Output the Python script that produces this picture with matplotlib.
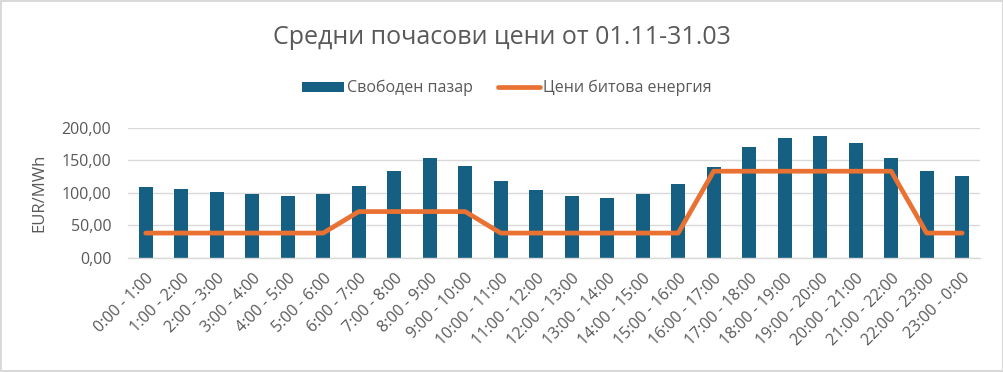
import matplotlib
matplotlib.use("Agg")
import matplotlib.pyplot as plt
import numpy as np
from matplotlib.lines import Line2D
from matplotlib.patches import Patch

plt.rcParams['font.family'] = ['Open Sans', 'DejaVu Sans']

hours = [f"{h}:00 - {(h + 1) % 24}:00" for h in range(24)]
free_market = [109, 106, 101, 98, 95, 98, 111, 134, 153, 141, 118, 104,
               95, 92, 98, 113, 139, 170, 184, 187, 176, 154, 134, 125]
household = [38, 38, 38, 38, 38, 38, 71, 71, 71, 71, 38, 38,
             38, 38, 38, 38, 133, 133, 133, 133, 133, 133, 38, 38]
yticks = [0, 50, 100, 150, 200]

title = "Средни почасови цени от 01.11-31.03"
s1_name = "Свободен пазар"
s2_name = "Цени битова енергия"
ylabel = "EUR/MWh"

BLUE = "#156082"
ORANGE = "#E97132"
GRAY = "#595959"
GRID = "#D9D9D9"

fig = plt.figure(figsize=(10.04, 3.72), dpi=100)
fig.patch.set_edgecolor(GRID)
fig.patch.set_linewidth(1.5)
ax = fig.add_axes([0.1275, 0.307, 0.8485, 0.35])

x = np.arange(len(hours))
ax.bar(x, free_market, width=0.4, color=BLUE, zorder=2)
ax.plot(x, household, color=ORANGE, lw=3.4, solid_capstyle='round',
        solid_joinstyle='round', zorder=3)

ax.set_xlim(-0.5, len(hours) - 0.5)
ax.set_ylim(0, 200)
ax.set_yticks(yticks)
ax.set_yticklabels([f"{v:.2f}".replace('.', ',') for v in yticks],
                   fontsize=11.5, color=GRAY)
ax.set_xticks(x)
ax.set_xticklabels(hours, rotation=45, ha='right', rotation_mode='anchor',
                   fontsize=11.5, color=GRAY)
ax.tick_params(axis='both', length=0)
ax.tick_params(axis='y', pad=12)
ax.tick_params(axis='x', pad=9)
ax.grid(axis='y', color=GRID, lw=1, zorder=0)
for s in ['top', 'right', 'left']:
    ax.spines[s].set_visible(False)
ax.spines['bottom'].set_color(GRID)
ax.spines['bottom'].set_linewidth(1)
ax.set_axisbelow(True)

ax.set_ylabel(ylabel, fontsize=12, color=GRAY, labelpad=10)
fig.text(0.5, 0.9, title, ha='center', va='center', fontsize=18, color=GRAY)

handles = [Patch(facecolor=BLUE, label=s1_name),
           Line2D([0], [0], color=ORANGE, lw=3.4, solid_capstyle='round', label=s2_name)]
fig.legend(handles=handles, loc='center', bbox_to_anchor=(0.505, 0.763), ncol=2,
           frameon=False, fontsize=11.5, labelcolor=GRAY, handlelength=2.6,
           handleheight=0.6, handletextpad=0.2, columnspacing=1.6)

fig.savefig("out.png", dpi=100, edgecolor=fig.get_edgecolor())
